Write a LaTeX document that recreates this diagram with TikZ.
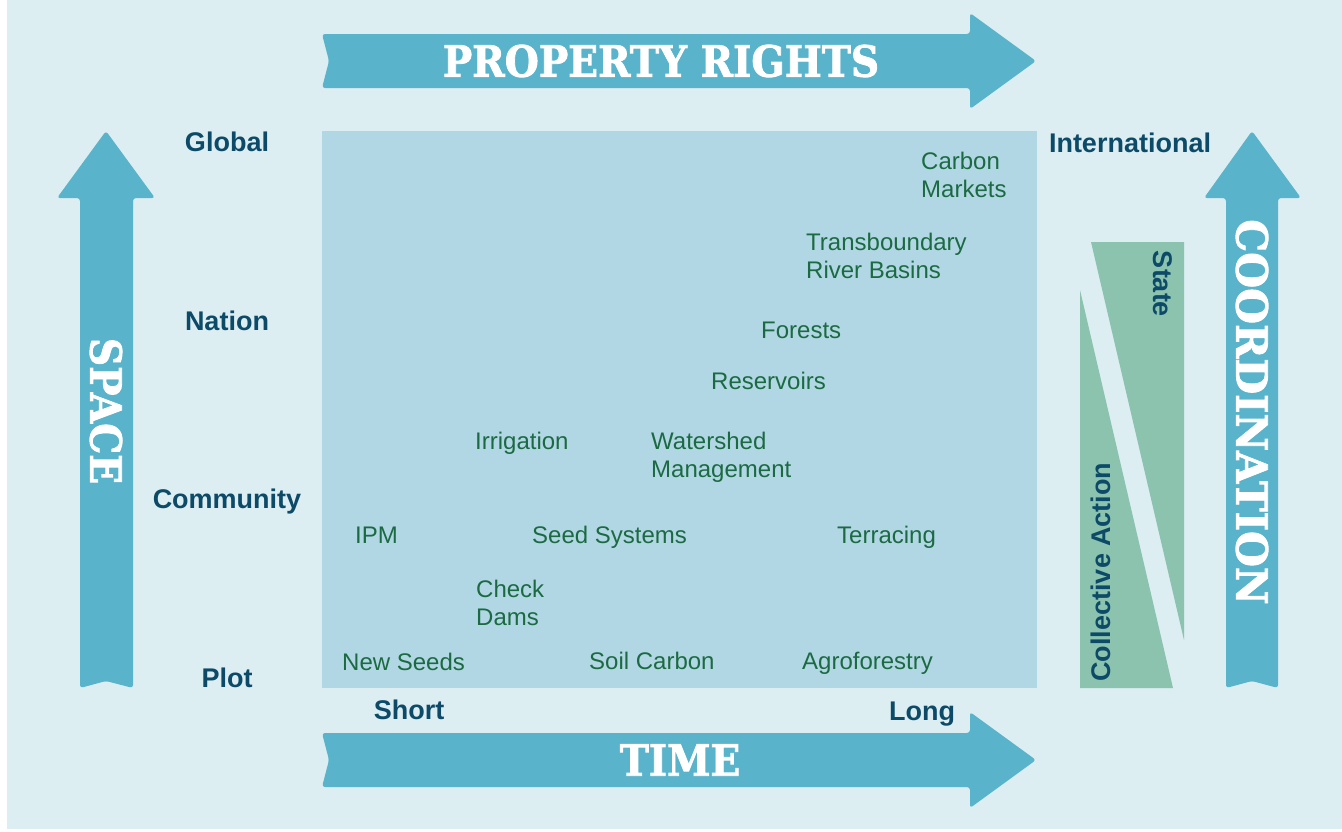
\documentclass[tikz,border=0pt]{standalone}
\usepackage{fontspec}
\setmainfont{Liberation Sans}
\newfontfamily\slabfont[BoldFeatures={FakeBold=2}]{DejaVu Serif}
\usepackage{tikz}
\usetikzlibrary{positioning, calc}
\definecolor{paleblue}{HTML}{DCEEF2}
\definecolor{gridblue}{HTML}{B1D7E4}
\definecolor{arrowblue}{HTML}{58B3CB}
\definecolor{bandgreen}{HTML}{8BC3AE}
\definecolor{labelblue}{HTML}{0C4A68}
\definecolor{itemgreen}{HTML}{1C6A42}
\newcommand{\narrowed}[2][0.91]{\scalebox{#1}[1]{#2}}
\tikzset{
	bigarrow/.style={fill=arrowblue, rounded corners=3pt},
	title/.style={text=white, inner sep=0pt, font=\slabfont\bfseries\fontsize{43}{43}\selectfont},
	axislabel/.style={text=labelblue, inner sep=0pt, anchor=base, font=\bfseries\fontsize{27}{30}\selectfont},
	item/.style={text=itemgreen, inner sep=0pt, align=left, anchor=base west, font=\fontsize{24}{28}\selectfont},
}

\begin{document}
\begin{tikzpicture}[x=1pt, y=-1pt]
		\useasboundingbox (0,0) rectangle (1342,831);
		\fill[paleblue] (7,0) rectangle (1342,829);
		\pgfmathsetmacro{\shaftlen}{648}
		\pgfmathsetmacro{\headlen}{66}
		%% horizontal arrows
		\fill[bigarrow] (322,34) -- ++(\shaftlen,0) -- ++(0,-21) -- ++(\headlen,48) -- ++(-\headlen,48) -- ++(0,-21) -- ++(-\shaftlen,0) -- ++(7,-27) -- cycle;
		\fill[bigarrow] (322,733) -- ++(\shaftlen,0) -- ++(0,-21) -- ++(\headlen,48) -- ++(-\headlen,48) -- ++(0,-21) -- ++(-\shaftlen,0) -- ++(7,-27) -- cycle;
		%% vertical arrows
		\fill[bigarrow] (80,688) -- ++(0,-490) -- ++(-23,0) -- ++(49,-67) -- ++(49,67) -- ++(-22,0) -- ++(0,490) -- ++(-27,-7) -- cycle;
		\fill[bigarrow] (1226,688) -- ++(0,-490) -- ++(-22,0) -- ++(48,-67) -- ++(49,67) -- ++(-23,0) -- ++(0,490) -- ++(-26,-7) -- cycle;
		\node[title] (rights) at (661,61) {\narrowed{PROPERTY RIGHTS}};
		\node[title] (time) at (680,760) {\narrowed{TIME}};
		\node[title, rotate=-90] (space) at (106,411) {\narrowed{SPACE}};
		\node[title, rotate=-90] (coord) at (1252,412) {\narrowed[0.96]{COORDINATION}};
		%% grid and bands
		\fill[gridblue] (322,131) rectangle (1037,688);
		\fill[bandgreen] (1080,290) -- (1173,688) -- (1080,688) -- cycle;
		\fill[bandgreen] (1091,242) -- (1184,242) -- (1184,640) -- cycle;
		\node[axislabel, rotate=90, anchor=center] (collective) at (1101,572) {Collective Action};
		\node[axislabel, rotate=-90, anchor=center] (state) at (1163,284) {State};
		%% scale labels
		\node[axislabel] (global) at (227,151) {Global};
		\node[axislabel] (nation) at (227,330) {Nation};
		\node[axislabel] (community) at (227,508) {Community};
		\node[axislabel] (plot) at (227,687) {Plot};
		\node[axislabel] (intl) at (1130,152) {International};
		\node[axislabel] (short) at (409,719) {Short};
		\node[axislabel] (long) at (922,720) {Long};
		%% items (base = last line)
		\node[item] (carbon) at (921,197) {Carbon\\Markets};
		\node[item] (rivers) at (806,278) {Transboundary\\River Basins};
		\node[item] (forests) at (761,338) {Forests};
		\node[item] (reservoirs) at (711,389) {Reservoirs};
		\node[item] (irrigation) at (475,449) {Irrigation};
		\node[item] (watershed) at (651,477) {Watershed\\Management};
		\node[item] (ipm) at (355,543) {IPM};
		\node[item] (seedsys) at (532,543) {Seed Systems};
		\node[item] (terracing) at (837,543) {Terracing};
		\node[item] (checkdams) at (476,625) {Check\\Dams};
		\node[item] (newseeds) at (342,670) {New Seeds};
		\node[item] (soilcarbon) at (589,669) {Soil Carbon};
		\node[item] (agroforestry) at (802,669) {Agroforestry};
		\end{tikzpicture}
\end{document}
